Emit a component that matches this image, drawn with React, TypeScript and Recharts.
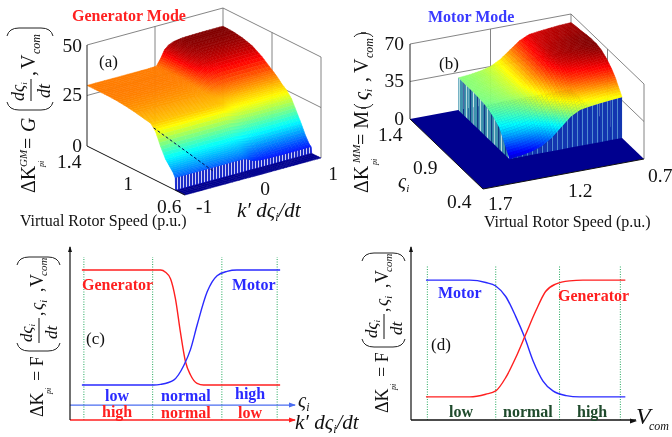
import { ComposedChart, LineChart, Line, Scatter, XAxis, YAxis, ReferenceLine } from "recharts";

// ---- panel (a), generator mode surface
const genK = [-1, -0.5, -0.1, 0.02, 0.08, 0.14, 0.2, 0.28, 0.4, 0.6, 0.8, 1];
const genSpeed = [1.4, 1.32, 1.24, 1.16, 1.08, 1, 0.96, 0.92, 0.88, 0.84, 0.8, 0.76, 0.728, 0.696, 0.68, 0.676, 0.6];
const genZ = [
  [30, 30, 30, 30.2, 33.3, 37.2, 39, 40.1, 40.7, 40.9, 41, 41],
  [30, 30, 30, 30.2, 33.2, 37, 38.9, 39.9, 40.5, 40.7, 40.8, 40.8],
  [30, 30, 30, 30.2, 33, 36.5, 38.2, 39.2, 39.7, 39.9, 40, 40],
  [29.8, 29.8, 29.8, 30, 32.4, 35.5, 36.9, 37.8, 38.2, 38.4, 38.5, 38.5],
  [29.3, 29.3, 29.3, 29.4, 31.2, 33.3, 34.4, 35, 35.3, 35.4, 35.5, 35.5],
  [28.5, 28.5, 28.5, 28.6, 29.4, 30.5, 31, 31.3, 31.4, 31.5, 31.5, 31.5],
  [28, 28, 28, 28, 28.5, 29, 29.2, 29.4, 29.5, 29.5, 29.5, 29.5],
  [27.5, 27.5, 27.5, 27.5, 27.4, 27.3, 27.2, 27.1, 27, 27, 27, 27],
  [27, 27, 27, 27, 26.4, 25.7, 25.4, 25.2, 25.1, 25, 25, 25],
  [24, 24, 24, 24, 23.4, 22.7, 22.4, 22.2, 22.1, 22, 22, 22],
  [18, 18, 18, 18, 17.7, 17.4, 17.2, 17.1, 17, 17, 17, 17],
  [13, 13, 13, 13, 12.7, 12.4, 12.2, 12.1, 12, 12, 12, 12],
  [10.5, 10.5, 10.5, 10.4, 9.6, 8.5, 8, 7.7, 7.6, 7.5, 7.5, 7.5],
  [8, 8, 8, 7.9, 6.8, 5.4, 4.7, 4.3, 4.1, 4, 4, 4],
  [6, 6, 6, 5.9, 5.1, 4, 3.5, 3.2, 3.1, 3, 3, 3],
  [0, 0, 0, 0, 0, 0, 0, 0, 0, 0, 0, 0],
  [0, 0, 0, 0, 0, 0, 0, 0, 0, 0, 0, 0],
];

// ---- panel (b), motor mode surface
const motSpeed = [1.4, 1.33, 1.26, 1.2, 1.14, 1.08, 1.02, 0.96, 0.9, 0.84, 0.77, 0.7];
const motSigma = [1.4, 1.33, 1.26, 1.19, 1.12, 1.05, 0.98, 0.91, 0.84, 0.79, 0.75, 0.7];
const motZ = [
  [30, 31, 32.6, 35.1, 39.9, 47, 54, 58.2, 59.4, 60.4, 61.4, 62],
  [30, 31, 32.6, 35.3, 40.2, 47.5, 54.8, 59, 60.4, 61.4, 62.3, 63],
  [30, 31, 32.7, 35.4, 40.4, 47.8, 55.1, 59.5, 60.8, 61.8, 62.8, 63.5],
  [30, 31, 32.8, 35.5, 40.7, 48.3, 55.9, 60.4, 61.7, 62.8, 63.8, 64.5],
  [29.5, 30.6, 32.3, 35.2, 40.5, 48.3, 56.1, 60.7, 62.2, 63.2, 64.3, 65],
  [29, 30.1, 31.9, 34.8, 40.2, 48.1, 56, 60.7, 62.1, 63.2, 64.3, 65],
  [27, 28.1, 29.9, 32.8, 38.3, 46.3, 54.4, 59.1, 60.6, 61.7, 62.8, 63.5],
  [24, 25.1, 26.9, 29.8, 35.2, 43.1, 51, 55.7, 57.1, 58.2, 59.3, 60],
  [20, 21, 22.8, 25.6, 30.9, 38.6, 46.3, 50.8, 52.2, 53.3, 54.3, 55],
  [13, 14.1, 16, 18.9, 24.5, 32.6, 40.8, 45.6, 47, 48.2, 49.3, 50],
  [7, 8.1, 10, 13, 18.6, 26.9, 35.1, 40, 41.5, 42.6, 43.8, 44.5],
  [0, 1.1, 3, 6.1, 11.8, 20.1, 28.5, 33.4, 35, 36.1, 37.2, 38],
];

// ---- panel (c), membership curves
const cGenX = [0, 39.7, 42.2, 44.7, 47.2, 49.7, 52.3, 54.8, 58.1, 61.4, 100];
const cGenY = [1, 1, 0.98, 0.925, 0.75, 0.46, 0.2, 0.087, 0.014, 0, 0];
const cMotX = [0, 36.3, 39.7, 46.3, 51.4, 54.8, 58.1, 63.2, 68.2, 73.2, 78.2, 100];
const cMotY = [0, 0, 0.006, 0.043, 0.17, 0.31, 0.52, 0.81, 0.95, 0.988, 1, 1];
const cZones = [1, 35.7, 70.6, 98.5];

// ---- panel (d), membership curves
const dMotX = [0, 22, 30, 35, 40, 45, 49.5, 53.7, 58.7, 63.7, 70.3, 77, 100];
const dMotY = [1, 1, 0.98, 0.95, 0.86, 0.69, 0.51, 0.31, 0.136, 0.051, 0.011, 0, 0];
const dGenX = [0, 22, 30, 35, 40, 45, 50, 55, 60, 65, 72, 78.7, 100];
const dGenY = [0, 0, 0.023, 0.051, 0.165, 0.335, 0.534, 0.733, 0.903, 0.966, 0.994, 1, 1];
const dZones = [0.7, 35, 67, 97.5];

const toRows = (xs: number[], ys: number[]) => xs.map((x, i) => ({ x, y: ys[i] }));

type Pt = [number, number];
type Poly = { points: Pt[]; fill?: string; stroke?: string; width?: number; dash?: string };
type Mark = { x: number; y: number; polys: Poly[] };

const clamp = (v: number) => Math.max(0, Math.min(1, v));
const jet = (v: number) => {
  const c = (d: number) => Math.round(255 * clamp(1.5 - Math.abs(4 * v - d)));
  return `rgb(${c(3)},${c(2)},${c(1)})`;
};

const markOf = (polys: Poly[]): Mark => ({ x: polys[0].points[0][0], y: polys[0].points[0][1], polys });
const seg = (a: Pt, b: Pt, stroke = "#666", width = 0.8, dash?: string) => markOf([{ points: [a, b], stroke, width, dash }]);

// painter's order: far row first, far column first, each cell shaded in small pieces
const SUB = 4;
function surfaceMarks(cols: number[], rows: number[], table: number[][], project: (c: number, r: number, z: number) => Pt, zMax: number) {
  const out: Mark[] = [];
  for (let i = 0; i < rows.length - 1; i++) {
    for (let j = cols.length - 2; j >= 0; j--) {
      const [z00, z01, z10, z11] = [table[i][j], table[i][j + 1], table[i + 1][j], table[i + 1][j + 1]];
      const at = (p: number, q: number): [number, number, number] => [
        cols[j] + (cols[j + 1] - cols[j]) * q,
        rows[i] + (rows[i + 1] - rows[i]) * p,
        z00 * (1 - p) * (1 - q) + z01 * (1 - p) * q + z10 * p * (1 - q) + z11 * p * q,
      ];
      const polys: Poly[] = [];
      for (let p = 0; p < SUB; p++) {
        for (let q = SUB - 1; q >= 0; q--) {
          const corners = [at(p / SUB, q / SUB), at(p / SUB, (q + 1) / SUB), at((p + 1) / SUB, (q + 1) / SUB), at((p + 1) / SUB, q / SUB)];
          const mean = (corners[0][2] + corners[1][2] + corners[2][2] + corners[3][2]) / 4;
          const fill = mean <= 0 ? "#00008f" : jet(0.08 + (0.92 * mean) / zMax);
          polys.push({ points: corners.map((c) => project(c[0], c[1], c[2])), fill, stroke: fill, width: 0.5 });
        }
      }
      out.push(markOf(polys));
    }
  }
  return out;
}

const projA = (k: number, s: number, z: number): Pt => {
  const a = (k + 1) / 2;
  const b = (1.4 - s) / 0.8;
  return [87 + 136 * a + 98 * b, 146 - 37 * a + 49 * b - 2.02 * z];
};
const projB = (s: number, g: number, z: number): Pt => {
  const a = 1.7 - s;
  const b = 1.4 - g;
  return [410 + 161 * a + 73 * b, 119 - 30 * a + 70 * b - (75 / 70) * z];
};

function panelAMarks() {
  const o: Mark[] = [];
  const box = projA;
  o.push(seg(box(-1, 1.4, 50), box(1, 1.4, 50)), seg(box(1, 1.4, 50), box(1, 0.6, 50)), seg(box(1, 0.6, 50), box(1, 0.6, 0)));
  o.push(seg(box(1, 1.4, 50), box(1, 1.4, 0)), seg(box(0, 1.4, 50), box(0, 1.4, 0)), seg(box(1, 1, 50), box(1, 1, 0)));
  o.push(seg(box(-1, 1.4, 25), box(1, 1.4, 25)), seg(box(1, 1.4, 25), box(1, 0.6, 25)));
  o.push(...surfaceMarks(genK, genSpeed, genZ, projA, 41));
  // short stepped wall along the low speed edge
  const top = genZ[14];
  const wall: Poly[] = [];
  for (let j = genK.length - 2; j >= 0; j--) {
    wall.push({ points: [projA(genK[j], 0.68, top[j]), projA(genK[j + 1], 0.68, top[j + 1]), projA(genK[j + 1], 0.68, 0), projA(genK[j], 0.68, 0)], fill: "url(#wallA)" });
  }
  o.push(markOf(wall));
  o.push(seg(projA(-0.02, 1.4, 0), projA(-0.276, 0.773, 0), "#00105a", 1, "3 2"));
  o.push(seg(box(-1, 1.4, 0), box(-1, 1.4, 50), "#222", 1), seg(box(-1, 1.4, 0), box(-1, 0.6, 0), "#111", 1));
  return o;
}

function panelBMarks() {
  const o: Mark[] = [];
  const box = projB;
  o.push(seg(box(1.7, 1.4, 70), box(0.7, 1.4, 70)), seg(box(0.7, 1.4, 70), box(0.7, 0.4, 70)), seg(box(0.7, 0.4, 70), box(0.7, 0.4, 0)));
  o.push(seg(box(0.7, 1.4, 70), box(0.7, 1.4, 0)), seg(box(1.2, 1.4, 70), box(1.2, 1.4, 0)), seg(box(0.7, 0.9, 70), box(0.7, 0.9, 0)));
  o.push(seg(box(1.7, 1.4, 35), box(0.7, 1.4, 35)), seg(box(0.7, 1.4, 35), box(0.7, 0.4, 35)));
  const floor = [box(1.7, 1.4, 0), box(0.7, 1.4, 0), box(0.7, 0.4, 0), box(1.7, 0.4, 0)];
  o.push(markOf([{ points: floor, fill: "#00008f" }]));
  o.push(...surfaceMarks(motSpeed, motSigma, motZ, projB, 65));
  const left: Poly[] = [];
  for (let i = 0; i < motSigma.length - 1; i++) {
    left.push({
      points: [projB(1.4, motSigma[i], motZ[i][0]), projB(1.4, motSigma[i + 1], motZ[i + 1][0]), projB(1.4, motSigma[i + 1], 0), projB(1.4, motSigma[i], 0)],
      fill: "url(#wallLeft)",
    });
  }
  o.push(markOf(left));
  const last = motZ[motZ.length - 1];
  const front: Poly[] = [];
  for (let j = motSpeed.length - 2; j >= 0; j--) {
    front.push({
      points: [projB(motSpeed[j], 0.7, last[j]), projB(motSpeed[j + 1], 0.7, last[j + 1]), projB(motSpeed[j + 1], 0.7, 0), projB(motSpeed[j], 0.7, 0)],
      fill: "url(#wallFront)",
    });
  }
  o.push(markOf(front));
  o.push(seg(box(1.7, 1.4, 0), box(1.7, 1.4, 70), "#222", 1), seg(box(1.7, 1.4, 0), box(1.7, 0.4, 0), "#111", 1), seg(box(1.7, 0.4, 0), box(0.7, 0.4, 0), "#111", 1));
  return o;
}

const marks = [...panelAMarks(), ...panelBMarks()];

const drawMark = (props: any) => {
  const m: Mark = props.payload;
  const dx = props.cx - m.x;
  const dy = props.cy - m.y;
  return (
    <g>
      {m.polys.map((p, i) => {
        const pts = p.points.map((c) => `${c[0] + dx},${c[1] + dy}`).join(" ");
        return p.fill ? (
          <polygon key={i} points={pts} fill={p.fill} stroke={p.stroke ?? "none"} strokeWidth={p.width} />
        ) : (
          <polyline key={i} points={pts} fill="none" stroke={p.stroke} strokeWidth={p.width} strokeDasharray={p.dash} />
        );
      })}
    </g>
  );
};

const RED = "#ff1f1f";
const BLUE = "#2a2aff";
const ZONE = "#22a85c";
const GREEN_TEXT = "#1f4a2c";
const SERIF = "'Liberation Serif', 'Times New Roman', serif";

function T(p: { x: number; y: number; s: number; c?: string; b?: boolean; i?: boolean; a?: "start" | "middle" | "end"; children: any }) {
  return (
    <text x={p.x} y={p.y} fontSize={p.s} fill={p.c ?? "#111"} fontWeight={p.b ? "bold" : "normal"} fontStyle={p.i ? "italic" : "normal"} textAnchor={p.a ?? "start"}>
      {p.children}
    </text>
  );
}

// big bracket in rotated label coordinates, dir says which way its ends turn
const Paren = ({ x, y0, y1, dir }: { x: number; y0: number; y1: number; dir: number }) => (
  <path d={`M${x + dir * 8} ${y0} Q${x} ${y0 + 2} ${x} ${y0 + 12} L${x} ${y1 - 12} Q${x} ${y1 - 2} ${x + dir * 8} ${y1}`} fill="none" stroke="#222" strokeWidth={1} />
);

const Sigma = ({ x, y, s, sub }: { x: number; y: number; s: number; sub: number }) => (
  <text x={x} y={y} fontSize={s} fontStyle="italic" fill="#111">
    ς
    <tspan fontSize={sub} dy={sub * 0.35}>
      i
    </tspan>
  </text>
);

const Kterm = ({ x, y }: { x: number; y: number }) => (
  <text x={x} y={y} fontSize={21} fontStyle="italic" fill="#111">
    k′ dς
    <tspan fontSize={12} dy={4}>
      i
    </tspan>
    <tspan dy={-4}>/dt</tspan>
  </text>
);

const FLabel = ({ x, y }: { x: number; y: number }) => (
  <g transform={`translate(${x} ${y}) rotate(-90)`}>
    <T x={0} y={0} s={18}>ΔK</T>
    <T x={23} y={8} s={8} i>pi</T>
    <T x={36} y={0} s={18}>= F</T>
    <Paren x={66} y0={-26} y1={17} dir={1} />
    <text x={75} y={-11} fontSize={17} fontStyle="italic" fill="#111">
      dς<tspan fontSize={9} dy={3}>i</tspan>
    </text>
    <line x1={74} x2={99} y1={-4} y2={-4} stroke="#111" strokeWidth={1} />
    <T x={78} y={14} s={17} i>dt</T>
    <T x={101} y={0} s={18}>,</T>
    <Sigma x={107} y={0} s={18} sub={10} />
    <T x={125} y={0} s={18}>,</T>
    <T x={130} y={0} s={18}>V</T>
    <T x={141} y={4} s={11} i>com</T>
    <Paren x={160} y0={-26} y1={17} dir={-1} />
  </g>
);

function Overlay() {
  return (
    <svg width={672} height={437} style={{ position: "absolute", left: 0, top: 0, fontFamily: SERIF }}>
      <defs>
        <pattern id="wallA" width={3} height={10} patternUnits="userSpaceOnUse">
          <rect width={3} height={10} fill="#1c2cc8" />
          <rect width={1} height={10} fill="#d0d0f4" />
        </pattern>
        <pattern id="wallLeft" width={7} height={10} patternUnits="userSpaceOnUse">
          <rect width={7} height={10} fill="#3f93ad" />
          <rect x={1} width={1.2} height={10} fill="#123a86" />
          <rect x={4} width={1} height={10} fill="#b6dbe0" />
        </pattern>
        <pattern id="wallFront" width={5} height={10} patternUnits="userSpaceOnUse">
          <rect width={5} height={10} fill="#1336b0" />
          <rect x={2} width={1} height={10} fill="#4f8bd0" />
        </pattern>
      </defs>

      {/* panel (a) */}
      <T x={72} y={21} s={16} c={RED} b>Generator Mode</T>
      <T x={99} y={67} s={17}>(a)</T>
      <T x={82} y={52} s={19.5} a="end">50</T>
      <T x={82} y={101} s={19.5} a="end">25</T>
      <T x={82} y={152} s={19.5} a="end">0</T>
      <T x={57} y={168} s={19.5}>1.4</T>
      <T x={128} y={190} s={19.5} a="middle">1</T>
      <T x={157} y={213} s={19.5}>0.6</T>
      <T x={196} y={213} s={19.5}>-1</T>
      <T x={265} y={195} s={19.5} a="middle">0</T>
      <T x={333} y={180} s={19.5} a="middle">1</T>
      <Kterm x={237} y={217} />
      <T x={20} y={226} s={16}>Virtual Rotor Speed (p.u.)</T>
      <g transform="translate(35 195) rotate(-90)">
        <T x={2} y={0} s={20}>ΔK</T>
        <T x={28} y={-8} s={11} i>GM</T>
        <T x={28} y={9} s={8} i>pi</T>
        <T x={46} y={0} s={20}>=</T>
        <T x={63} y={0} s={20} i>G</T>
        <Paren x={85} y0={-28} y1={18} dir={1} />
        <text x={94} y={-11} fontSize={18} fontStyle="italic" fill="#111">
          dς<tspan fontSize={9} dy={3}>i</tspan>
        </text>
        <line x1={94} x2={116} y1={-4} y2={-4} stroke="#111" strokeWidth={1} />
        <T x={97} y={15} s={18} i>dt</T>
        <T x={119} y={0} s={20}>,</T>
        <T x={126} y={0} s={20}>V</T>
        <T x={141} y={5} s={12} i>com</T>
        <Paren x={167} y0={-28} y1={18} dir={-1} />
      </g>

      {/* panel (b) */}
      <T x={428} y={22} s={16} c="#3a3aff" b>Motor Mode</T>
      <T x={439} y={69} s={17}>(b)</T>
      <T x={404} y={50} s={19.5} a="end">70</T>
      <T x={404} y={87} s={19.5} a="end">35</T>
      <T x={404} y={125} s={19.5} a="end">0</T>
      <T x={378} y={141} s={19.5}>1.4</T>
      <T x={413} y={174} s={19.5}>0.9</T>
      <T x={447} y={208} s={19.5}>0.4</T>
      <T x={488} y={210} s={19.5}>1.7</T>
      <T x={568} y={197} s={19.5}>1.2</T>
      <T x={648} y={182} s={19.5}>0.7</T>
      <Sigma x={398} y={188} s={20} sub={11} />
      <T x={484} y={227} s={16}>Virtual Rotor Speed (p.u.)</T>
      <g transform="translate(368 193) rotate(-90)">
        <T x={0} y={0} s={20}>ΔK</T>
        <T x={30} y={-8} s={11} i>MM</T>
        <T x={28} y={9} s={8} i>pi</T>
        <T x={48} y={0} s={20}>= M</T>
        <Paren x={85} y0={-14} y1={5} dir={0.5} />
        <Sigma x={93} y={0} s={20} sub={11} />
        <T x={111} y={0} s={20}>,</T>
        <T x={120} y={0} s={20}>V</T>
        <T x={135} y={5} s={12} i>com</T>
        <Paren x={160} y0={-14} y1={5} dir={-0.5} />
      </g>

      {/* panel (c) */}
      <polygon points="70,246 68,252 72,252" fill="#111" />
      <polygon points="296,405 289,402.5 289,407.5" fill="#4a6cf0" />
      <polygon points="296,420 289,417.5 289,422.5" fill={RED} />
      <FLabel x={43} y={417} />
      <T x={82} y={290} s={16} c={RED} b>Generator</T>
      <T x={232} y={290} s={16} c={BLUE} b>Motor</T>
      <T x={86} y={344} s={17}>(c)</T>
      <T x={105} y={401} s={16} c={BLUE} b>low</T>
      <T x={161} y={401} s={16} c={BLUE} b>normal</T>
      <T x={235} y={399} s={16} c={BLUE} b>high</T>
      <T x={102} y={417} s={16} c={RED} b>high</T>
      <T x={161} y={418} s={16} c={RED} b>normal</T>
      <T x={238} y={418} s={16} c={RED} b>low</T>
      <Sigma x={298} y={407} s={20} sub={12} />
      <Kterm x={295} y={429} />

      {/* panel (d) */}
      <polygon points="411,246 409,252 413,252" fill="#111" />
      <polygon points="637,421 630,418.5 630,423.5" fill="#111" />
      <FLabel x={388} y={413} />
      <T x={438} y={298} s={16} c={BLUE} b>Motor</T>
      <T x={558} y={301} s={16} c={RED} b>Generator</T>
      <T x={431} y={350} s={17}>(d)</T>
      <T x={449} y={417} s={16} c={GREEN_TEXT} b>low</T>
      <T x={503} y={417} s={16} c={GREEN_TEXT} b>normal</T>
      <T x={577} y={417} s={16} c={GREEN_TEXT} b>high</T>
      <T x={636} y={424} s={24} i>V</T>
      <T x={649} y={430} s={12} i>com</T>
    </svg>
  );
}

function CurvePanel(p: {
  left: number;
  xDomain: [number, number];
  yDomain: [number, number];
  zones: number[];
  zoneTop: number;
  axisColor: string;
  curves: { rows: { x: number; y: number }[]; color: string }[];
  extraLine?: { y: number; color: string };
}) {
  return (
    <div style={{ position: "absolute", left: p.left, top: 247 }}>
      <LineChart width={226} height={174} margin={{ top: 0, right: 0, bottom: 0, left: 0 }}>
        <XAxis type="number" dataKey="x" domain={p.xDomain} allowDataOverflow height={1} tick={false} tickLine={false} axisLine={{ stroke: p.axisColor, strokeWidth: 1.3 }} />
        <YAxis type="number" dataKey="y" domain={p.yDomain} allowDataOverflow width={1} tick={false} tickLine={false} axisLine={{ stroke: "#111", strokeWidth: 1.2 }} />
        {p.zones.map((z) => (
          <ReferenceLine key={z} segment={[{ x: z, y: p.yDomain[0] }, { x: z, y: p.zoneTop }]} stroke={ZONE} strokeDasharray="1 1.5" strokeWidth={1} />
        ))}
        {p.extraLine && <ReferenceLine y={p.extraLine.y} stroke={p.extraLine.color} strokeWidth={1.3} />}
        {p.curves.map((c) => (
          <Line key={c.color} data={c.rows} dataKey="y" type="monotone" stroke={c.color} strokeWidth={1.4} dot={false} isAnimationActive={false} />
        ))}
      </LineChart>
    </div>
  );
}

export default function App() {
  return (
    <div style={{ position: "absolute", left: 0, top: 0, width: 672, height: 437, background: "#fff", overflow: "hidden", filter: "blur(0.35px)" }}>
      <div style={{ position: "absolute", left: 0, top: 0 }}>
        <ComposedChart width={672} height={437} margin={{ top: 0, right: 0, bottom: 0, left: 0 }}>
          <XAxis type="number" dataKey="x" domain={[0, 672]} hide />
          <YAxis type="number" dataKey="y" domain={[0, 437]} reversed hide />
          <Scatter data={marks} shape={drawMark} isAnimationActive={false} />
        </ComposedChart>
      </div>
      <CurvePanel
        left={69}
        xDomain={[-6, 107.5]}
        yDomain={[-0.304, 1.2]}
        zones={cZones}
        zoneTop={1.113}
        axisColor={RED}
        extraLine={{ y: -0.174, color: "#4a6cf0" }}
        curves={[
          { rows: toRows(cGenX, cGenY), color: RED },
          { rows: toRows(cMotX, cMotY), color: BLUE },
        ]}
      />
      <CurvePanel
        left={410}
        xDomain={[-7.5, 105.35]}
        yDomain={[-0.198, 1.284]}
        zones={dZones}
        zoneTop={1.13}
        axisColor="#111"
        curves={[
          { rows: toRows(dMotX, dMotY), color: BLUE },
          { rows: toRows(dGenX, dGenY), color: RED },
        ]}
      />
      <Overlay />
    </div>
  );
}
